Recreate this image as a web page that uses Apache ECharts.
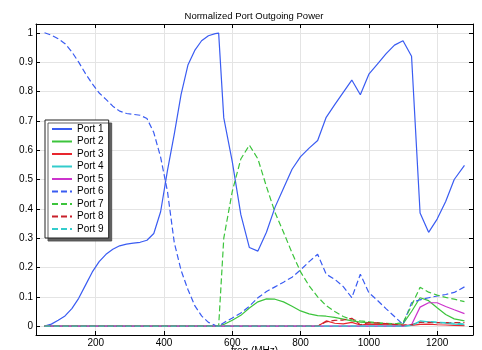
<!DOCTYPE html>
<html>
<head>
<meta charset="utf-8">
<script src="https://cdn.jsdelivr.net/npm/echarts@6/dist/echarts.min.js"></script>
<style>html,body{margin:0;padding:0;background:#fff}#c{width:482px;height:350px}</style>
</head>
<body>
<div id="c"></div>
<script>
const titleText = 'Normalized Port Outgoing Power';
const xName = 'freq (MHz)';
const freq = [50,70,90,110,130,150,170,190,210,230,250,270,290,310,330,350,370,390,410,430,450,470,490,510,530,550,560,575,600,625,650,675,700,725,750,775,800,825,850,875,900,925,950,975,1000,1025,1050,1075,1100,1125,1150,1175,1200,1225,1250,1280];
const xTicks = [200,400,600,800,1000,1200];
const yTicks = [0,0.1,0.2,0.3,0.4,0.5,0.6,0.7,0.8,0.9,1];
const names = ['Port 1','Port 2','Port 3','Port 4','Port 5','Port 6','Port 7','Port 8','Port 9'];
const port1 = [0,0.007,0.02,0.035,0.06,0.095,0.14,0.185,0.22,0.245,0.262,0.274,0.28,0.283,0.286,0.293,0.316,0.39,0.53,0.655,0.79,0.89,0.94,0.973,0.99,0.997,0.999,0.71,0.56,0.38,0.268,0.256,0.32,0.405,0.47,0.535,0.578,0.607,0.633,0.712,0.755,0.797,0.839,0.789,0.859,0.893,0.928,0.958,0.973,0.92,0.386,0.32,0.365,0.425,0.5,0.548];
const port2 = [0,0,0,0,0,0,0,0,0,0,0,0,0,0,0,0,0,0,0,0,0,0,0,0,0,0,0,0.006,0.02,0.037,0.062,0.083,0.093,0.092,0.083,0.068,0.052,0.042,0.036,0.034,0.03,0.024,0.018,0.014,0.012,0.01,0.008,0.006,0.008,0.05,0.097,0.087,0.063,0.04,0.025,0.018];
const port3 = [0,0,0,0,0,0,0,0,0,0,0,0,0,0,0,0,0,0,0,0,0,0,0,0,0,0,0,0,0,0,0,0,0,0,0,0,0,0,0,0.018,0.01,0.008,0.013,0.004,0.007,0.006,0.005,0.004,0.003,0.003,0.006,0.007,0.005,0.004,0.003,0.002];
const port4 = [0,0,0,0,0,0,0,0,0,0,0,0,0,0,0,0,0,0,0,0,0,0,0,0,0,0,0,0,0,0,0,0,0,0,0,0,0,0,0,0,0,0,0,0,0,0,0,0,0,0.003,0.018,0.015,0.012,0.01,0.007,0.005];
const port5 = [0,0,0,0,0,0,0,0,0,0,0,0,0,0,0,0,0,0,0,0,0,0,0,0,0,0,0,0,0,0,0,0,0,0,0,0,0,0,0,0,0,0,0,0,0,0,0,0,0,0.005,0.065,0.08,0.08,0.067,0.056,0.043];
const port6 = [1.0,0.992,0.98,0.963,0.935,0.9,0.861,0.826,0.795,0.773,0.75,0.733,0.725,0.722,0.719,0.708,0.66,0.576,0.46,0.285,0.19,0.125,0.07,0.035,0.013,0.003,0.001,0.012,0.028,0.045,0.068,0.097,0.118,0.134,0.15,0.167,0.192,0.22,0.245,0.177,0.16,0.135,0.097,0.177,0.114,0.088,0.06,0.033,0.006,0.08,0.09,0.097,0.103,0.108,0.115,0.134];
const port7 = [0,0,0,0,0,0,0,0,0,0,0,0,0,0,0,0,0,0,0,0,0,0,0,0,0,0,0,0.30,0.46,0.57,0.617,0.57,0.476,0.388,0.32,0.25,0.185,0.138,0.1,0.07,0.05,0.033,0.022,0.018,0.015,0.012,0.01,0.008,0.012,0.07,0.133,0.116,0.106,0.098,0.092,0.084];
const port8 = [0,0,0,0,0,0,0,0,0,0,0,0,0,0,0,0,0,0,0,0,0,0,0,0,0,0,0,0,0,0,0,0,0,0,0,0,0,0,0,0.015,0.02,0.021,0.027,0.005,0.012,0.011,0.009,0.006,0.004,0.005,0.013,0.013,0.012,0.012,0.012,0.012];
const port9 = [0,0,0,0,0,0,0,0,0,0,0,0,0,0,0,0,0,0,0,0,0,0,0,0,0,0,0,0,0,0,0,0,0,0,0,0,0,0,0,0,0,0,0,0,0,0,0,0,0,0.003,0.015,0.016,0.014,0.012,0.01,0.008];
const values = [port1,port2,port3,port4,port5,port6,port7,port8,port9];
const colors = ['#3a5cf2','#3cc43c','#e8262e','#33cccc','#cc33cc','#3a5cf2','#3cc43c','#c8202a','#33cccc'];
const dashed = [false,false,false,false,false,true,true,true,true];

const FONT = 'Liberation Sans, Arial, sans-serif';
const chart = echarts.init(document.getElementById('c'), null, {renderer:'canvas'});
function axisCommon(show, vals) {
  return {
    axisLine: {show: true, onZero: false, lineStyle: {color: '#000', width: 1}},
    axisTick: {show: true, inside: true, length: 4, customValues: vals, lineStyle: {color: '#000'}},
    axisLabel: {show: show, customValues: vals, margin: 3, color: '#000', fontSize: 10, fontFamily: FONT,
      formatter: v => String(Math.round(v * 10) / 10)},
    splitLine: {show: show, lineStyle: {color: '#e4e4e4', width: 1}}
  };
}
const series = names.map((n, i) => ({
  name: n, type: 'line', xAxisIndex: 0, yAxisIndex: 0,
  data: freq.map((f, j) => [f, values[i][j]]),
  symbol: 'none', animation: false,
  lineStyle: {color: colors[i], width: 1.2, type: dashed[i] ? [6, 3] : 'solid'},
  itemStyle: {color: colors[i]}
}));
chart.setOption({
  animation: false,
  backgroundColor: '#fff',
  grid: {left: 36, right: 9, top: 24, bottom: 15, containLabel: false, outerBoundsMode: 'none'},
  graphic: [{type: 'text', x: 254, y: 16,
    style: {text: titleText, fill: '#000', font: '9.5px ' + FONT, textAlign: 'center', textVerticalAlign: 'middle'}}],
  legend: {
    orient: 'vertical', left: 45, top: 120,
    data: names,
    itemWidth: 20, itemHeight: 10, itemGap: 0.5,
    padding: [3, 5, 3, 6],
    borderColor: '#222', borderWidth: 1, backgroundColor: '#fff',
    shadowColor: 'rgba(80,80,80,0.9)', shadowOffsetX: 3, shadowOffsetY: 3, shadowBlur: 0,
    itemStyle: {opacity: 0},
    textStyle: {fontSize: 10, fontFamily: FONT, color: '#000', lineHeight: 12}
  },
  xAxis: [
    Object.assign({type: 'value', min: 25, max: 1305, position: 'bottom',
      name: xName, nameLocation: 'middle', nameGap: 11, nameMoveOverlap: false,
      nameTextStyle: {fontSize: 10, fontFamily: FONT, color: '#000', verticalAlign: 'top'}}, axisCommon(true, xTicks)),
    Object.assign({type: 'value', min: 25, max: 1305, position: 'top'}, axisCommon(false, xTicks))
  ],
  yAxis: [
    Object.assign({type: 'value', min: -0.03, max: 1.03, position: 'left'}, axisCommon(true, yTicks)),
    Object.assign({type: 'value', min: -0.03, max: 1.03, position: 'right'}, axisCommon(false, yTicks))
  ],
  series: series
});
</script>
</body>
</html>
